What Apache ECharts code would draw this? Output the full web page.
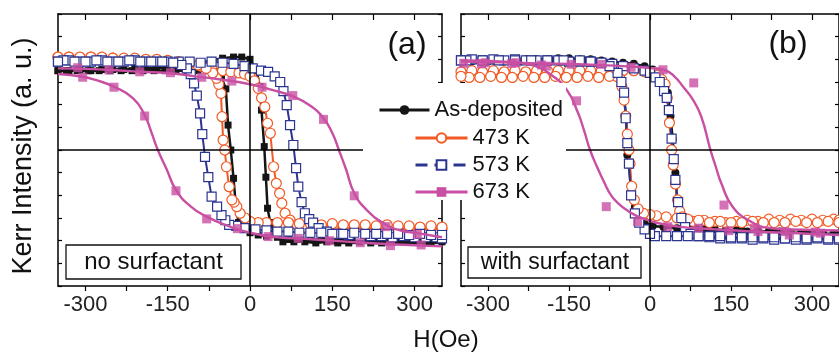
<!DOCTYPE html>
<html><head><meta charset="utf-8">
<script src="https://cdn.jsdelivr.net/npm/echarts@6/dist/echarts.min.js"></script>
<style>html,body{margin:0;padding:0;background:#fff}#c{width:839px;height:352px}</style>
</head><body><div id="c"></div><script>
// ---------- labels ----------
const seriesNames = ['As-deposited', '473 K', '573 K', '673 K'];
const xTickLabels = [-300, -150, 0, 150, 300];
const xTickMarks = [-300, -225, -150, -75, 0, 75, 150, 225, 300];
const xTitle = 'H(Oe)';
const yTitle = 'Kerr Intensity (a. u.)';
const panelTags = ['(a)', '(b)'];
const panelNotes = ['no surfactant', 'with surfactant'];

// ---------- panel (a): no surfactant ----------
const aBlackUp = [[-350,3.5],[-330,3.5],[-310,3.52],[-290,3.5],[-270,3.55],[-250,3.55],[-230,3.55],[-210,3.6],[-190,3.6],[-170,3.62],[-150,3.65],[-130,3.7],[-110,3.75],[-90,3.85],[-70,3.95],[-50,4.05],[-30,4.1],[-15,4.1],[0,4.0],[12,3.5],[18,2.8],[21,1.76],[26,0.15],[29,-1.2],[32,-2.57],[37,-3.2],[45,-3.7],[60,-4.05],[80,-4.05],[100,-4.05],[120,-4.1],[140,-4.05],[160,-4.1],[180,-4.1],[200,-4.05],[220,-4.1],[240,-4.1],[260,-4.05],[280,-4.05],[300,-4.0],[320,-4.05],[340,-4.0],[350,-4.0]];
const aBlackDown = [[350,-4.05],[330,-4.05],[310,-4.0],[290,-4.05],[270,-4.0],[250,-4.05],[230,-4.0],[210,-4.0],[190,-4.0],[170,-3.95],[150,-4.0],[130,-3.95],[110,-3.95],[90,-3.9],[70,-3.9],[50,-3.85],[30,-3.8],[15,-3.75],[0,-3.65],[-9,-3.5],[-21,-3.2],[-26,-2.4],[-30,-1.25],[-35,0.0],[-40,1.1],[-44,2.7],[-52,3.2],[-62,3.45],[-75,3.5],[-95,3.5],[-115,3.5],[-135,3.5],[-155,3.5],[-175,3.5],[-195,3.5],[-215,3.5],[-235,3.5],[-255,3.5],[-275,3.5],[-295,3.5],[-315,3.5],[-335,3.5],[-350,3.5]];
const aOrangeUp = [[-350,4.1],[-330,4.1],[-310,4.05],[-290,4.1],[-270,4.05],[-250,4.05],[-230,4.0],[-210,4.0],[-190,3.95],[-170,3.95],[-150,3.9],[-130,3.85],[-110,3.8],[-90,3.7],[-70,3.6],[-50,3.5],[-35,3.45],[-20,3.4],[-10,3.35],[0,3.25],[8,3.05],[15,2.72],[21,2.3],[27,1.9],[32,1.18],[37,0.74],[43,-0.74],[48,-1.47],[54,-1.91],[58,-2.35],[64,-2.79],[73,-3.09],[85,-3.3],[100,-3.4],[115,-3.45],[130,-3.5],[150,-3.45],[170,-3.5],[190,-3.45],[210,-3.5],[230,-3.45],[250,-3.5],[270,-3.5],[290,-3.45],[310,-3.5],[330,-3.45],[350,-3.5]];
const aOrangeDown = [[350,-3.4],[330,-3.35],[310,-3.4],[290,-3.35],[270,-3.35],[250,-3.3],[230,-3.35],[210,-3.3],[190,-3.3],[170,-3.3],[150,-3.25],[130,-3.3],[110,-3.25],[90,-3.25],[70,-3.2],[50,-3.2],[30,-3.2],[15,-3.2],[0,-3.15],[-9,-3.0],[-18,-2.79],[-24,-2.5],[-29,-2.3],[-33,-2.2],[-38,-1.62],[-43,-0.74],[-46,0.0],[-49,0.44],[-51,1.47],[-53,2.5],[-57,2.9],[-61,3.16],[-68,3.4],[-80,3.6],[-95,3.75],[-110,3.85],[-130,3.9],[-150,3.95],[-170,4.0],[-190,4.0],[-210,4.05],[-230,4.05],[-250,4.05],[-270,4.1],[-290,4.1],[-310,4.1],[-330,4.1],[-350,4.1]];
const aBlueUp = [[-350,3.9],[-330,3.95],[-310,3.9],[-290,3.9],[-270,3.95],[-250,3.9],[-230,3.9],[-210,3.95],[-190,3.9],[-170,3.9],[-150,3.9],[-130,3.9],[-110,3.9],[-90,3.85],[-70,3.9],[-50,3.85],[-30,3.8],[-10,3.7],[5,3.6],[20,3.5],[33,3.45],[45,3.25],[55,3.0],[61,2.6],[67,1.98],[73,1.1],[79,0.22],[84,-0.8],[88,-1.62],[94,-2.3],[100,-2.79],[108,-3.05],[115,-3.2],[125,-3.45],[140,-3.6],[160,-3.7],[180,-3.75],[200,-3.8],[220,-3.8],[240,-3.8],[260,-3.85],[280,-3.8],[300,-3.85],[320,-3.85],[340,-3.85],[350,-3.9]];
const aBlueDown = [[350,-3.75],[330,-3.75],[310,-3.7],[290,-3.75],[270,-3.7],[250,-3.7],[230,-3.7],[210,-3.7],[190,-3.65],[170,-3.7],[150,-3.7],[130,-3.65],[110,-3.65],[90,-3.65],[70,-3.6],[50,-3.6],[30,-3.55],[10,-3.5],[-10,-3.45],[-25,-3.35],[-38,-3.3],[-45,-3.1],[-52,-2.87],[-60,-2.5],[-70,-2.06],[-76,-1.2],[-82,-0.3],[-87,0.7],[-91,1.62],[-97,2.4],[-102,2.94],[-108,3.35],[-115,3.6],[-125,3.75],[-140,3.85],[-160,3.9],[-180,3.9],[-200,3.9],[-220,3.95],[-240,3.9],[-260,3.9],[-280,3.95],[-300,3.9],[-320,3.9],[-340,3.95],[-350,3.9]];
const aMagentaFitUp = [[-350,3.6],[-300,3.58],[-250,3.53],[-200,3.45],[-150,3.4],[-100,3.25],[-50,3.1],[0,2.9],[40,2.65],[80,2.35],[110,1.95],[134,1.4],[150,0.75],[162,0.0],[175,-0.85],[190,-1.9],[213,-2.65],[248,-3.3],[275,-3.55],[305,-3.67],[350,-3.85]];
const aMagentaFitDown = [[350,-4.25],[300,-4.2],[250,-4.15],[200,-4.08],[150,-4.0],[100,-3.92],[50,-3.85],[0,-3.65],[-40,-3.35],[-79,-2.94],[-110,-2.45],[-135,-1.76],[-152,-0.85],[-168,0.0],[-180,0.8],[-192,1.54],[-213,2.28],[-248,2.79],[-280,3.08],[-305,3.23],[-350,3.35]];
const aMagentaPts = [[-314,3.63],[-257,3.53],[-201,3.45],[-145,3.41],[-88,3.21],[-33,3.04],[22,2.77],[78,2.4],[134,1.35],[190,-2.02],[248,-3.38],[305,-3.72],[312,-4.19],[256,-4.22],[201,-4.09],[145,-4.0],[88,-3.9],[33,-3.82],[-23,-3.47],[-79,-3.04],[-135,-1.8],[-192,1.5],[-248,2.77],[-305,3.21]];

// ---------- panel (b): with surfactant ----------
const bBlackUp = [[-350,3.9],[-330,3.95],[-310,3.9],[-290,3.95],[-270,3.95],[-250,3.95],[-230,4.0],[-210,4.0],[-190,4.0],[-170,4.05],[-150,4.05],[-130,4.0],[-110,4.0],[-90,3.95],[-70,3.9],[-50,3.85],[-30,3.8],[-10,3.7],[5,3.55],[18,3.3],[28,2.9],[33,2.53],[38,1.5],[42,0.47],[47,-1.0],[50,-2.28],[55,-2.8],[60,-3.1],[70,-3.35],[85,-3.45],[100,-3.5],[120,-3.5],[140,-3.55],[160,-3.55],[180,-3.6],[200,-3.6],[220,-3.6],[240,-3.6],[260,-3.65],[280,-3.65],[300,-3.65],[320,-3.7],[340,-3.7],[350,-3.7]];
const bBlackDown = [[350,-3.7],[320,-3.7],[290,-3.65],[260,-3.65],[230,-3.6],[200,-3.6],[170,-3.55],[140,-3.55],[110,-3.5],[80,-3.5],[50,-3.45],[25,-3.4],[5,-3.35],[-10,-3.2],[-20,-3.0],[-28,-2.5],[-35,-1.9],[-39,-0.6],[-42,-0.22],[-44,1.47],[-48,2.3],[-53,2.9],[-58,3.3],[-68,3.6],[-85,3.8],[-100,3.9],[-120,3.95],[-150,3.95],[-180,3.95],[-210,3.9],[-240,3.9],[-270,3.9],[-300,3.9],[-330,3.9],[-350,3.9]];
const bOrangeUp = [[-350,3.45],[-330,3.5],[-310,3.45],[-290,3.5],[-270,3.45],[-250,3.5],[-230,3.45],[-210,3.5],[-190,3.5],[-170,3.5],[-150,3.5],[-130,3.5],[-110,3.5],[-90,3.5],[-70,3.5],[-50,3.5],[-30,3.5],[-10,3.45],[5,3.4],[15,3.3],[22,3.1],[28,2.9],[32,2.3],[36,1.2],[40,0.0],[43,-0.66],[47,-1.5],[51,-2.2],[55,-2.7],[60,-2.95],[68,-3.1],[80,-3.15],[100,-3.1],[120,-3.15],[140,-3.2],[160,-3.15],[180,-3.1],[200,-3.15],[220,-3.05],[240,-3.1],[260,-3.05],[280,-3.1],[300,-3.05],[320,-3.1],[340,-3.05],[350,-3.1]];
const bOrangeDown = [[350,-3.2],[330,-3.15],[310,-3.2],[290,-3.2],[270,-3.15],[250,-3.2],[230,-3.2],[210,-3.2],[190,-3.15],[170,-3.2],[150,-3.2],[130,-3.15],[110,-3.2],[90,-3.1],[70,-3.05],[50,-3.0],[30,-2.95],[12,-2.9],[0,-2.85],[-12,-2.8],[-22,-2.6],[-29,-2.2],[-34,-1.6],[-37,-0.6],[-39,0.0],[-42,0.7],[-45,1.5],[-48,2.2],[-52,2.8],[-56,3.16],[-62,3.25],[-75,3.25],[-95,3.2],[-115,3.25],[-135,3.2],[-155,3.2],[-175,3.25],[-195,3.2],[-215,3.2],[-235,3.25],[-255,3.2],[-275,3.2],[-295,3.25],[-315,3.2],[-335,3.2],[-350,3.25]];
const bBlueUp = [[-350,3.95],[-330,4.0],[-310,3.95],[-290,4.0],[-270,3.95],[-250,4.0],[-230,3.95],[-210,3.95],[-190,3.95],[-170,3.95],[-150,3.9],[-130,3.9],[-110,3.9],[-90,3.85],[-70,3.8],[-50,3.7],[-30,3.6],[-10,3.5],[0,3.4],[10,3.2],[18,3.0],[26,2.6],[31,2.3],[35,1.76],[40,0.5],[44,-0.4],[47,-1.32],[52,-2.3],[58,-3.0],[65,-3.4],[75,-3.7],[90,-3.8],[110,-3.85],[130,-3.9],[150,-3.9],[170,-3.9],[190,-3.95],[210,-3.9],[230,-3.95],[250,-3.9],[270,-3.95],[290,-3.95],[310,-3.9],[330,-3.95],[350,-3.95]];
const bBlueDown = [[350,-3.9],[330,-3.9],[310,-3.85],[290,-3.9],[270,-3.85],[250,-3.9],[230,-3.85],[210,-3.85],[190,-3.85],[170,-3.85],[150,-3.85],[130,-3.8],[110,-3.8],[90,-3.8],[70,-3.8],[50,-3.8],[30,-3.8],[9,-3.8],[0,-3.7],[-10,-3.5],[-20,-3.2],[-28,-2.8],[-35,-2.0],[-39,-0.6],[-42,0.3],[-45,1.4],[-48,2.53],[-53,3.0],[-60,3.4],[-75,3.7],[-90,3.85],[-110,3.9],[-130,3.95],[-160,3.95],[-190,3.95],[-220,3.95],[-250,3.95],[-280,3.95],[-310,3.95],[-340,3.95],[-350,3.95]];
const bMagentaFitUp = [[-350,3.9],[-300,3.88],[-250,3.85],[-200,3.82],[-150,3.8],[-100,3.75],[-50,3.7],[0,3.62],[27,3.53],[45,3.25],[61,2.8],[80,2.2],[95,1.47],[112,0.0],[122,-0.75],[132,-1.47],[153,-2.5],[187,-3.16],[224,-3.45],[280,-3.52],[350,-3.55]];
const bMagentaFitDown = [[350,-3.75],[300,-3.7],[250,-3.65],[193,-3.6],[120,-3.5],[52,-3.38],[10,-3.2],[-22,-2.94],[-40,-2.7],[-59,-2.35],[-72,-2.0],[-84,-1.47],[-98,-0.75],[-111,0.0],[-122,0.85],[-133,1.62],[-154,2.65],[-182,3.3],[-219,3.75],[-268,3.9],[-350,3.95]];
const bMagentaPts = [[-312,3.8],[-256,3.82],[-201,3.75],[-146,3.78],[-90,3.78],[-35,3.65],[24,3.54],[81,2.96],[137,-2.43],[193,-3.45],[250,-3.6],[306,-3.62],[316,-3.67],[258,-3.75],[200,-3.6],[146,-3.56],[90,-3.45],[33,-3.38],[-23,-3.16],[-81,-2.5],[-136,2.17],[-192,3.7],[-248,3.85],[-305,3.85],[-345,3.82]];

// ---------- styling ----------
const FONT = 'Liberation Sans, Arial, sans-serif';
const C = { black: '#151515', orange: '#f15a24', blue: '#2b3590', magenta: '#c84fa2' };

function loop(up, down) { return up.concat(down); }

function lineSeries(name, grid, data, color, symbol, size, filled, width) {
  return {
    name: name, type: 'line', xAxisIndex: grid * 2, yAxisIndex: grid * 2,
    data: data, symbol: symbol, symbolSize: size, showSymbol: true,
    lineStyle: { color: color, width: width },
    itemStyle: { color: filled ? color : '#fff', borderColor: color, borderWidth: filled ? 0 : 1.2 },
    emphasis: { disabled: true }, animation: false, clip: true, z: 2
  };
}
function fitSeries(name, grid, up, down, color) {
  return [up, down].map((d, i) => ({
    name: name, type: 'line', xAxisIndex: grid * 2, yAxisIndex: grid * 2,
    data: d, smooth: 0.5, symbol: 'rect', showSymbol: false, symbolSize: 9,
    lineStyle: { color: color, width: 2.4 }, itemStyle: { color: color },
    emphasis: { disabled: true }, animation: false, z: 3
  }));
}
function ptsSeries(grid, data, color) {
  return { name: 'pts' + grid, type: 'scatter', xAxisIndex: grid * 2, yAxisIndex: grid * 2,
    data: data, symbol: 'rect', symbolSize: 9, itemStyle: { color: color },
    emphasis: { disabled: true }, animation: false, z: 4 };
}
function zeroLines(grid) {
  return { name: 'zero' + grid, type: 'line', xAxisIndex: grid * 2, yAxisIndex: grid * 2, data: [],
    markLine: { silent: true, symbol: ['none', 'none'], label: { show: false }, animation: false,
      lineStyle: { color: '#000', type: 'solid', width: 1.5 },
      data: [{ xAxis: 0 }, { yAxis: 0 }] }, z: 1 };
}

const grids = [
  { left: 58, top: 14, width: 384, height: 272 },
  { left: 461, top: 14, width: 381, height: 272 }
];
const xAxes = [], yAxes = [];
grids.forEach((g, i) => {
  xAxes.push({ type: 'value', gridIndex: i, min: -350, max: 350, position: 'bottom',
    axisLine: { onZero: false, lineStyle: { color: '#000', width: 1.5 } },
    axisTick: { inside: false, length: 5, customValues: xTickMarks, lineStyle: { color: '#000', width: 1.2 } },
    axisLabel: { customValues: xTickLabels, color: '#222', fontSize: 22, fontFamily: FONT, margin: 8 },
    splitLine: { show: false } });
  xAxes.push({ type: 'value', gridIndex: i, min: -350, max: 350, position: 'top',
    axisLine: { onZero: false, lineStyle: { color: '#000', width: 1.5 } },
    axisTick: { inside: true, length: 6, customValues: xTickMarks, lineStyle: { color: '#000', width: 1.2 } },
    axisLabel: { show: false }, splitLine: { show: false } });
  yAxes.push({ type: 'value', gridIndex: i, min: -6, max: 6, interval: 1, position: 'left',
    axisLine: { onZero: false, lineStyle: { color: '#000', width: 1.5 } },
    axisTick: { inside: true, length: 4, lineStyle: { color: '#000', width: 1.2 } },
    axisLabel: { show: false }, splitLine: { show: false } });
  yAxes.push({ type: 'value', gridIndex: i, min: -6, max: 6, interval: 1, position: 'right',
    axisLine: { onZero: false, lineStyle: { color: '#000', width: 1.5 } },
    axisTick: { inside: true, length: 4, lineStyle: { color: '#000', width: 1.2 } },
    axisLabel: { show: false }, splitLine: { show: false } });
});

const series = [
  // panel (b) first so legend icons follow panel (b) symbols
  zeroLines(1),
  lineSeries(seriesNames[0], 1, loop(bBlackUp, bBlackDown), C.black, 'circle', 8, true, 2.5),
  lineSeries(seriesNames[1], 1, loop(bOrangeUp, bOrangeDown), C.orange, 'circle', 10, false, 2),
  lineSeries(seriesNames[2], 1, loop(bBlueUp, bBlueDown), C.blue, 'rect', 9, false, 2),
  ...fitSeries(seriesNames[3], 1, bMagentaFitUp, bMagentaFitDown, C.magenta),
  ptsSeries(1, bMagentaPts, C.magenta),
  zeroLines(0),
  lineSeries(seriesNames[0], 0, loop(aBlackUp, aBlackDown), C.black, 'rect', 7, true, 2.5),
  lineSeries(seriesNames[1], 0, loop(aOrangeUp, aOrangeDown), C.orange, 'circle', 10, false, 2),
  lineSeries(seriesNames[2], 0, loop(aBlueUp, aBlueDown), C.blue, 'rect', 9, false, 2),
  ...fitSeries(seriesNames[3], 0, aMagentaFitUp, aMagentaFitDown, C.magenta),
  ptsSeries(0, aMagentaPts, C.magenta)
];

const legendPos = [
  { left: 378, top: 99, w: 50 },
  { left: 414, top: 127, w: 52 },
  { left: 414, top: 154, w: 52 },
  { left: 414, top: 181, w: 52 }
];
const legends = seriesNames.map((n, i) => ({
  left: legendPos[i].left, top: legendPos[i].top, padding: 0, itemGap: 0,
  itemWidth: legendPos[i].w, itemHeight: 12, selectedMode: false, z: 20,
  data: [i === 2 ? { name: n, lineStyle: { type: [12, 7], width: 3 } } : { name: n }],
  lineStyle: { width: 3 },
  textStyle: { fontSize: 22, color: '#111', fontFamily: FONT, padding: [0, 0, 0, 0] }
}));

function txt(x, y, s, size, extra) {
  return Object.assign({ type: 'text', x: x, y: y, z: 30,
    style: { text: s, fill: '#111', font: size + 'px ' + FONT, textAlign: 'center', textVerticalAlign: 'middle' } }, extra || {});
}

const option = {
  backgroundColor: '#fff',
  animation: false,
  grid: grids,
  xAxis: xAxes,
  yAxis: yAxes,
  legend: legends,
  series: series,
  graphic: { elements: [
    { type: 'rect', z: 10, shape: { x: 363, y: 83, width: 203, height: 117 }, style: { fill: '#fff' } },
    { type: 'rect', z: 10, shape: { x: 66, y: 245, width: 175, height: 34 }, style: { fill: '#fff', stroke: '#111', lineWidth: 1.3 } },
    { type: 'rect', z: 10, shape: { x: 468, y: 247, width: 173, height: 31 }, style: { fill: '#fff', stroke: '#111', lineWidth: 1.3 } },
    txt(153.5, 262, panelNotes[0], 24),
    txt(555, 262.5, panelNotes[1], 23),
    txt(407, 45, panelTags[0], 32),
    txt(788, 44, panelTags[1], 32),
    txt(446, 340, xTitle, 24),
    txt(24, 156, yTitle, 27, { rotation: Math.PI / 2 })
  ] }
};
const chart = echarts.init(document.getElementById('c'), null, { renderer: 'canvas' });
chart.setOption(option);
</script></body></html>
